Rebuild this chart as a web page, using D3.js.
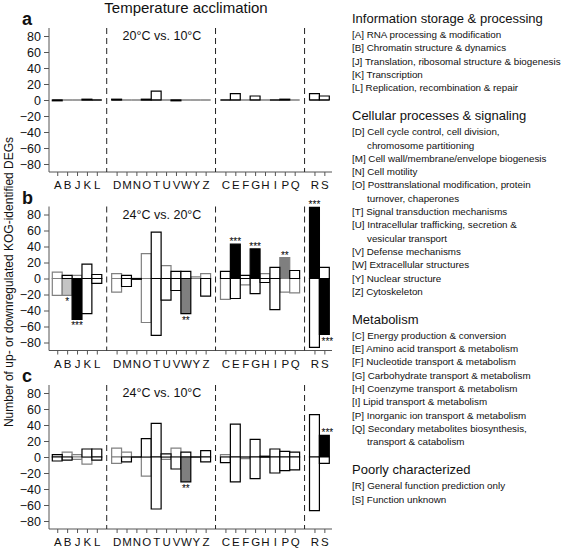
<!DOCTYPE html>
<html><head><meta charset="utf-8">
<script src="https://cdn.jsdelivr.net/npm/d3@7"></script>
<style>
body{margin:0;background:#fff}
svg{display:block}
text{font-family:"Liberation Sans",Arial,Helvetica,sans-serif;fill:#111}
</style>
</head><body><svg id="chart" width="565" height="548"></svg>
<script>
// ---------------- DATA ----------------
const categories = ["A","B","J","K","L","D","M","N","O","T","U","V","W","Y","Z","C","E","F","G","H","I","P","Q","R","S"];
const groupSizes = [5,10,8,2];
const yTicks = [-80,-60,-40,-20,0,20,40,60,80];
const panelLetters = ["a","b","c"];
const comparisons = ["20°C vs. 10°C","24°C vs. 20°C","24°C vs. 10°C"];
const chartTitle = "Temperature acclimation";
const yAxisTitle = "Number of up- or downregulated KOG-identified DEGs";

// panel a: 20°C vs 10°C
const upA   = [0,0,0,1,0, 1,0,0,1,11,0,0,0,0,0, 0,8,0,5,0,0,1,0, 8,5];
const downA = [-1,0,0,0,0, 0,0,0,0,0,0,-1,0,0,0, 0,0,0,0,0,0,0,0, 0,0];
const upSigA   = Array(25).fill("");
const downSigA = Array(25).fill("");
const greyUpA   = ["B","J","M","N","U","W","Y","Z","F","H","Q"];
const greyDownA = ["B","J","M","N","U","W","Y","Z","F","H","Q"];

// panel b: 24°C vs 20°C
const upB   = [8,4,4,18,5, 6,4,0,31,58,16,9,9,2,6, 9,43,4,37,6,14,26,10, 89,14];
const downB = [-21,-21,-51,-44,-6, -17,-10,-1,-55,-71,-27,-15,-44,0,-22, -26,-25,-8,-19,-5,-39,-17,-18, -86,-70];
const upSigB   = ["","","","","", "","","","","","","","","","", "","***","","***","","","**","", "***",""];
const downSigB = ["","*","***","","", "","","","","","","","**","","", "","","","","","","","", "","***"];
const greyUpB   = ["A","J","D","O","U","Y","Z","H","P"];
const greyDownB = ["A","B","D","O","Y","C","F","P","Q"];

// panel c: 24°C vs 10°C
const upC   = [3,6,3,10,10, 11,6,0,23,42,4,11,6,0,8, 3,41,0,22,1,10,7,6, 53,27];
const downC = [-5,-4,-3,-9,-4, -8,-6,0,-24,-65,-3,-15,-31,0,-6, -7,-31,-2,-27,0,-20,-17,-16, -67,-8];
const upSigC   = ["","","","","", "","","","","","","","","","", "","","","","","","","", "","***"];
const downSigC = ["","","","","", "","","","","","","","**","","", "","","","","","","","", "",""];
const greyUpC   = ["B","J","D","M","V","C"];
const greyDownC = ["J","K","D","O","U","F"];

const legendHeadings = ["Information storage & processing","Cellular processes & signaling","Metabolism","Poorly characterized"];
const legendItems = [
  [["[A] RNA processing & modification"],["[B] Chromatin structure & dynamics"],["[J] Translation, ribosomal structure & biogenesis"],["[K] Transcription"],["[L] Replication, recombination & repair"]],
  [["[D] Cell cycle control, cell division,","chromosome partitioning"],["[M] Cell wall/membrane/envelope biogenesis"],["[N] Cell motility"],["[O] Posttranslational modification, protein","turnover, chaperones"],["[T] Signal transduction mechanisms"],["[U] Intracellular trafficking, secretion &","vesicular transport"],["[V] Defense mechanisms"],["[W] Extracellular structures"],["[Y] Nuclear structure"],["[Z] Cytoskeleton"]],
  [["[C] Energy production & conversion"],["[E] Amino acid transport & metabolism"],["[F] Nucleotide transport & metabolism"],["[G] Carbohydrate transport & metabolism"],["[H] Coenzyme transport & metabolism"],["[I] Lipid transport & metabolism"],["[P] Inorganic ion transport & metabolism"],["[Q] Secondary metabolites biosynthesis,","transport & catabolism"]],
  [["[R] General function prediction only"],["[S] Function unknown"]]
];

// ---------------- DRAW ----------------
const panels = [
  {up:upA, down:downA, upSig:upSigA, downSig:downSigA, gUp:greyUpA, gDown:greyDownA},
  {up:upB, down:downB, upSig:upSigB, downSig:downSigB, gUp:greyUpB, gDown:greyDownB},
  {up:upC, down:downC, upSig:upSigC, downSig:downSigC, gUp:greyUpC, gDown:greyDownC}
];

const svg = d3.select("#chart");
const FONT = '"Liberation Sans",Arial,Helvetica,sans-serif';
const GREY = "#808080";
const sigFill = {"":"#fff","*":"#c4c4c4","**":"#7f7f7f","***":"#000"};

// slot index: category index + group index (one empty slot between groups)
const slotOf = [];
const groupEndSlot = [];
{
  let i = 0;
  groupSizes.forEach((n, g) => {
    for (let k = 0; k < n; k++) { slotOf.push(i + g); i++; }
    groupEndSlot.push(i + g);
  });
}
const nSlots = categories.length + groupSizes.length - 1;
const x = d3.scaleLinear().domain([0, nSlots]).range([52.3, 329.3]);
const dividerSlots = groupEndSlot.slice(0, -1).map(s => s + 0.5);

const panelTop0 = 28, panelStep = 178.5, panelH = 144;
const axisX = 49, axisRight = 332;

svg.append("text").attr("x", 186).attr("y", 13).attr("text-anchor", "middle")
  .style("font-size", "15px").text(chartTitle);

svg.append("text").attr("transform", "translate(13,282) rotate(-90)")
  .attr("text-anchor", "middle").style("font-size", "12px").text(yAxisTitle);

panels.forEach((p, pi) => {
  const top = panelTop0 + pi * panelStep;
  const y = d3.scaleLinear().domain([-90, 90]).range([top + panelH, top]);
  const g = svg.append("g");

  g.append("text").attr("x", 22).attr("y", top - 3).style("font-size", "18px")
    .style("font-weight", "bold").text(panelLetters[pi]);

  g.append("text").attr("x", 162).attr("y", top + 12).attr("text-anchor", "middle")
    .style("font-size", "12.5px").text(comparisons[pi]);

  // y axis
  const yAxis = d3.axisLeft(y).tickValues(yTicks).tickSize(5).tickPadding(3).tickSizeOuter(0);
  const ya = g.append("g").attr("transform", `translate(${axisX},0)`).call(yAxis);
  ya.select(".domain").attr("stroke", "#555").attr("d", `M0,${top}V${top + panelH}`);
  ya.selectAll(".tick line").attr("stroke", "#555");
  ya.selectAll(".tick text").style("font-size", "12.5px").style("font-family", FONT).attr("fill", "#111");

  // x axis
  const xa = g.append("g").attr("transform", `translate(0,${top + panelH})`);
  xa.append("path").attr("d", `M${axisX},0H${axisRight}`).attr("stroke", "#555").attr("fill", "none");
  const xAxis = d3.axisBottom(x).tickValues(slotOf.map(s => s + 0.5))
    .tickFormat((d, i) => categories[i]).tickSize(4).tickPadding(5).tickSizeOuter(0);
  const xg = xa.append("g").call(xAxis);
  xg.select(".domain").remove();
  xg.selectAll(".tick line").attr("stroke", "#555");
  xg.selectAll(".tick text").style("font-size", "11.5px").style("font-family", FONT).attr("fill", "#111");

  // dashed dividers
  dividerSlots.forEach(s => {
    g.append("line").attr("x1", x(s)).attr("x2", x(s)).attr("y1", top).attr("y2", top + panelH)
      .attr("stroke", "#222").attr("stroke-width", 1).attr("stroke-dasharray", "6,4");
  });

  // bars
  const bars = [];
  categories.forEach((c, i) => {
    bars.push({c, i, v: p.up[i], sig: p.upSig[i], grey: p.gUp.includes(c), dir: 1});
    bars.push({c, i, v: p.down[i], sig: p.downSig[i], grey: p.gDown.includes(c), dir: -1});
  });
  bars.sort((a, b) => (b.grey - a.grey));
  g.selectAll("path.bar").data(bars).enter().append("path").attr("class", "bar")
    .attr("d", d => {
      const x0 = x(slotOf[d.i]), x1 = x(slotOf[d.i] + 1);
      return `M${x0},${y(0)}H${x1}V${y(d.v)}H${x0}Z`;
    })
    .attr("fill", d => sigFill[d.sig])
    .attr("stroke", d => d.grey ? GREY : "#000")
    .attr("stroke-width", 1.2);

  // significance stars
  bars.filter(d => d.sig).forEach(d => {
    const cx = x(slotOf[d.i] + 0.5) + (d.i === categories.length - 1 ? 3 : 0);
    const yy = d.dir > 0 ? y(d.v) + 1 : y(d.v) + 10;
    g.append("text").attr("x", cx).attr("y", yy).attr("text-anchor", "middle")
      .style("font-size", "10px").style("fill", "#000").text(d.sig);
  });
});

// legend
{
  const lx = 352, indent = 15, lh = 13.3;
  let yy = 23;
  legendHeadings.forEach((h, gi) => {
    svg.append("text").attr("x", lx).attr("y", yy).style("font-size", "13px").text(h);
    yy += 15;
    legendItems[gi].forEach(item => {
      item.forEach((line, li) => {
        svg.append("text").attr("x", li ? lx + indent : lx).attr("y", yy)
          .style("font-size", "9.8px").text(line);
        yy += lh;
      });
    });
    yy += 29 - lh;
  });
}
</script>
</body></html>
